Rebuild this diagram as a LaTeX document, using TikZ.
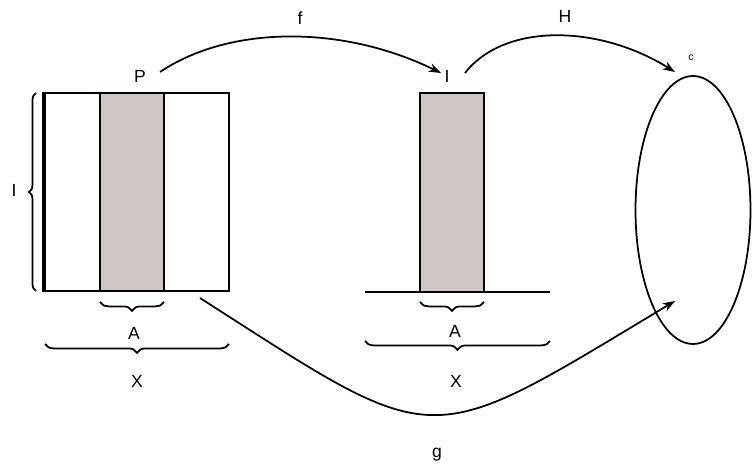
\documentclass[tikz,border=0pt]{standalone}
\usepackage{fontspec}
\setmainfont{Liberation Sans}
\usetikzlibrary{arrows.meta,decorations.pathreplacing,shapes.geometric}
\definecolor{stripfill}{RGB}{207,197,197}
\begin{document}
\begin{tikzpicture}[x=0.02cm,y=-0.02cm,
  edge/.style={line width=1pt},
  arr/.style={line width=1pt,-{Stealth[length=7pt,width=5pt]}},
  strip/.style={draw,line width=1pt,fill=stripfill,minimum width=1.28cm,inner sep=0pt},
  bracelr/.style={decorate,decoration={brace,amplitude=5pt},line width=1pt},
  lab/.style={font=\fontsize{10}{12}\selectfont,inner sep=1pt}]
\useasboundingbox (0,0) rectangle (752,470);
% left box
\node (lbox) [draw,line width=1pt,minimum width=3.68cm,minimum height=3.96cm,inner sep=0pt] at (137,192) {};
\node (lstrip) [strip,minimum height=3.96cm] at (132,192) {};
\draw[line width=2.2pt] (lbox.north west) -- (lbox.south west);
% middle
\node (mstrip) [strip,minimum height=3.98cm] at (452,192.5) {};
\coordinate (bl) at (365,292);
\coordinate (br) at (550,292);
\draw[edge] (bl) -- (br);
% ellipse
\node (ell) [draw,ellipse,line width=1pt,minimum width=2.30cm,minimum height=5.36cm,inner sep=0pt] at (693,210) {};
% labels
\node (P) [lab] at (140,76) {P};
\node (I) [lab] at (447,76) {I};
\node (c) [lab,font=\fontsize{6}{7}\selectfont] at (691,58) {c};
\node (f) [lab] at (300,18) {f};
\node (h) [lab] at (565,16) {H};
\node (g) [lab] at (437,455) {g};
\node (l) [lab] at (14,190) {I};
\node (A1) [lab] at (134,333) {A};
\node (X1) [lab] at (137,381) {X};
\node (A2) [lab] at (455,331) {A};
\node (X2) [lab] at (456,381) {X};
% braces
\coordinate (lbt) at (36,93);
\coordinate (lbb) at (36,291);
\draw[bracelr,decoration={amplitude=4pt}] (lbb) -- (lbt);
\coordinate (a1r) at (164,302);
\coordinate (a1l) at (100,302);
\draw[bracelr] (a1r) -- (a1l);
\coordinate (x1r) at (229,344);
\coordinate (x1l) at (45,344);
\draw[bracelr] (x1r) -- (x1l);
\coordinate (a2r) at (484,302);
\coordinate (a2l) at (420,302);
\draw[bracelr] (a2r) -- (a2l);
\coordinate (x2r) at (550,341);
\coordinate (x2l) at (365,341);
\draw[bracelr] (x2r) -- (x2l);
% arrows
\coordinate (fs) at (160,72);
\coordinate (fe) at (441,73);
\draw[arr] (fs) .. controls (230,25) and (343,25) .. (fe);
\coordinate (hs) at (465,73);
\coordinate (he) at (675,72);
\draw[arr] (hs) .. controls (505,22) and (600,25) .. (he);
\coordinate (gs) at (200,298);
\coordinate (ge) at (675,301);
\draw[arr] (gs) .. controls (442,453) and (422,453) .. (ge);
\end{tikzpicture}
\end{document}
